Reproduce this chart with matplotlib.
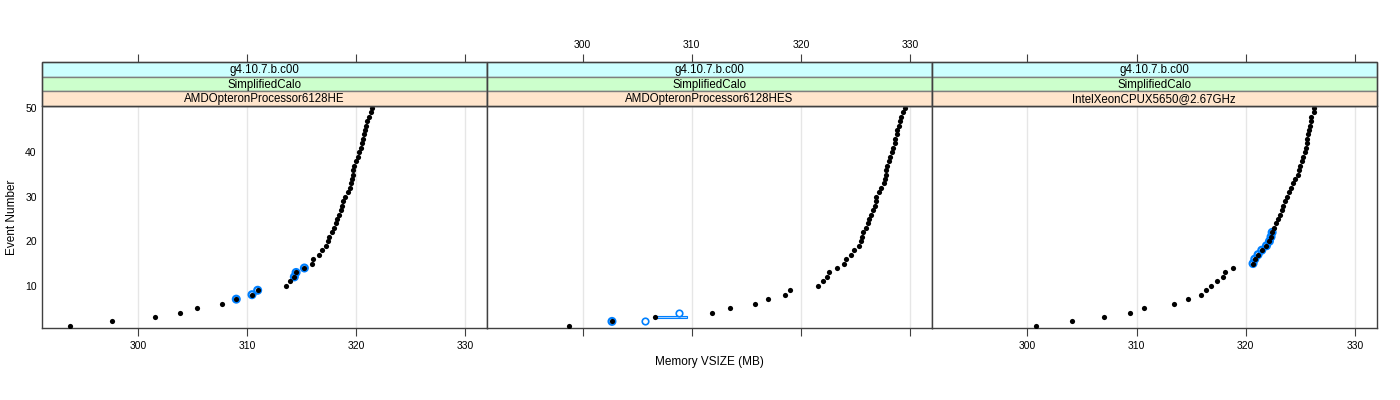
import matplotlib
matplotlib.use("Agg")
import matplotlib.pyplot as plt
from matplotlib.patches import Rectangle

plt.rcParams['font.family'] = ['Liberation Sans', 'DejaVu Sans']

# dados
event_number = list(range(1, 51))

vsize_he = [293.76, 297.68, 301.59, 303.82, 305.41, 307.68, 309.02, 310.46, 310.98, 313.58,
            313.94, 314.34, 314.50, 315.26, 315.96, 316.09, 316.61, 316.88, 317.25, 317.40,
            317.52, 317.77, 317.95, 318.13, 318.29, 318.47, 318.62, 318.75, 318.84, 318.99,
            319.27, 319.48, 319.57, 319.63, 319.69, 319.76, 319.85, 320.00, 320.15, 320.31,
            320.46, 320.55, 320.64, 320.76, 320.83, 320.92, 321.01, 321.16, 321.32, 321.47]

vsize_hes = [298.78, 302.69, 306.64, 311.83, 313.46, 315.75, 317.03, 318.50, 319.02, 321.59,
             321.99, 322.39, 322.54, 323.30, 323.98, 324.10, 324.62, 324.89, 325.29, 325.50,
             325.60, 325.69, 325.96, 326.12, 326.27, 326.42, 326.61, 326.76, 326.85, 326.91,
             327.13, 327.37, 327.65, 327.71, 327.77, 327.83, 327.92, 328.04, 328.20, 328.32,
             328.41, 328.59, 328.65, 328.78, 328.84, 328.96, 329.08, 329.21, 329.36, 329.51]

vsize_xeon = [300.80, 304.04, 307.03, 309.42, 310.64, 313.39, 314.68, 315.87, 316.39, 316.79,
              317.40, 317.92, 318.07, 318.87, 320.67, 320.83, 321.13, 321.47, 321.90, 322.17,
              322.32, 322.42, 322.63, 322.78, 322.97, 323.15, 323.33, 323.46, 323.61, 323.82,
              323.98, 324.19, 324.37, 324.50, 324.80, 324.89, 324.98, 325.20, 325.29, 325.44,
              325.50, 325.57, 325.63, 325.69, 325.84, 325.90, 325.96, 325.99, 326.30, 326.30]

# eventos destacados (azul)
hl_he = [7, 8, 9, 12, 13, 14]
hl_hes = [2]
hl_xeon = [15, 16, 17, 18, 19, 20, 21, 22]

# pontos extras do painel HES
extra_hes_x = [305.72, 308.81]
extra_hes_y = [2, 4]
bar_hes = (306.64, 309.60, 3)

release = "g4.10.7.b.c00"
test = "SimplifiedCalo"
cpus = ["AMDOpteronProcessor6128HE", "AMDOpteronProcessor6128HES", "IntelXeonCPUX5650@2.67GHz"]
series = [vsize_he, vsize_hes, vsize_xeon]
highlights = [hl_he, hl_hes, hl_xeon]
xticks = [300, 310, 320, 330]
yticks = [10, 20, 30, 40, 50]
xlim = (291.25, 332.0)

blue = '#0080ff'
strip_cols = ['#ccffff', '#ccffcc', '#ffe5cc']
border = '#404040'

W, H = 1400, 400
fig = plt.figure(figsize=(14, 4), dpi=100)

left0 = 42.3
pw = 444.8
ptop, pbot = 106.0, 328.3
stop = 62.3

for i in range(3):
    x0 = left0 + i * pw
    ax = fig.add_axes([x0 / W, 1 - pbot / H, pw / W, (pbot - ptop) / H])
    ax.set_xlim(*xlim)
    ax.set_ylim(0.45, 50.4)
    for t in xticks:
        ax.axvline(t, color='#e6e6e6', lw=1, zorder=0)

    xs = series[i]
    hl = highlights[i]
    hx = [xs[e - 1] for e in hl]
    ax.scatter(hx, hl, s=24, facecolors='none', edgecolors=blue, linewidths=1.6, zorder=2)
    if i == 1:
        b0, b1, by = bar_hes
        ax.add_patch(Rectangle((b0, by - 0.2), b1 - b0, 0.4, facecolor='#b3d7ff',
                               edgecolor=blue, lw=0.8, zorder=2))
        ax.scatter(extra_hes_x, extra_hes_y, s=22, facecolors='white', edgecolors=blue,
                   linewidths=1.2, zorder=3)
    ax.scatter(xs, event_number, s=14, color='black', lw=0, zorder=4)

    for sp in ax.spines.values():
        sp.set_color(border)
        sp.set_linewidth(1.0)

    ax.set_xticks(xticks)
    ax.tick_params(axis='x', direction='out', length=6, width=0.8, color=border,
                   labelsize=7.5, top=False, bottom=True, labeltop=False,
                   labelbottom=(i != 1), pad=3)
    if i == 0:
        ax.set_yticks(yticks)
        ax.tick_params(axis='y', length=0, labelsize=7.5, pad=4)
        ax.set_ylabel('Event Number', fontsize=8.5, labelpad=5)
    else:
        ax.set_yticks([])
    if i == 1:
        ax.set_xlabel('Memory VSIZE (MB)', fontsize=8.5, labelpad=14)

    # faixas (strips) no estilo lattice, com os ticks do topo
    sax = fig.add_axes([x0 / W, 1 - ptop / H, pw / W, (ptop - stop) / H])
    sax.set_xlim(*xlim)
    sax.set_ylim(0, 3)
    for sp in sax.spines.values():
        sp.set_visible(False)
    sax.set_yticks([])
    sax.set_xticks(xticks)
    sax.tick_params(axis='x', direction='out', length=6, width=0.8, color=border,
                    labelsize=7.5, top=True, bottom=False, labeltop=(i == 1),
                    labelbottom=False, pad=3)
    labels = [release, test, cpus[i]]
    for k in range(3):
        yb = (2 - k) / 3
        sax.add_patch(Rectangle((0, yb), 1, 1 / 3, transform=sax.transAxes,
                                facecolor=strip_cols[k], edgecolor='#7f7f7f',
                                lw=1.0, clip_on=False))
        sax.text(0.5, yb + 0.155, labels[k], transform=sax.transAxes,
                 ha='center', va='center', fontsize=8.3)
    sax.add_patch(Rectangle((0, 0), 1, 1, transform=sax.transAxes, facecolor='none',
                            edgecolor=border, lw=1.0, clip_on=False))

fig.savefig('out.png', dpi=100)
